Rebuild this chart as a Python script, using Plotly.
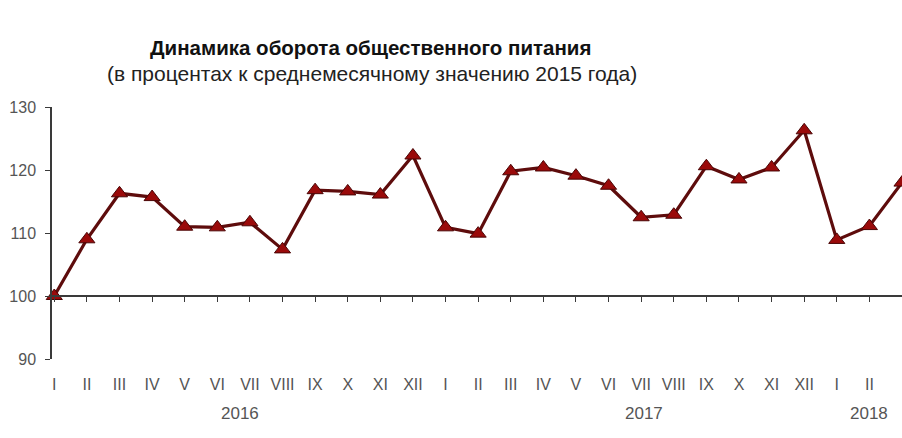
import plotly.graph_objects as go

# Monthly index of catering turnover, % of the 2015 monthly average
months = ["I", "II", "III", "IV", "V", "VI", "VII", "VIII", "IX", "X", "XI", "XII",
          "I", "II", "III", "IV", "V", "VI", "VII", "VIII", "IX", "X", "XI", "XII",
          "I", "II", "III"]
values = [100.0, 109.0, 116.3, 115.7, 111.0, 110.9, 111.7, 107.4, 116.8, 116.6, 116.1, 122.3,
          110.9, 109.9, 119.8, 120.4, 119.1, 117.5, 112.5, 112.9, 120.6, 118.5, 120.4, 126.3,
          108.9, 111.1, 118.0]
years = ["2016", "2017", "2018"]
year_pos = [5.7, 18.1, 25.0]
y_ticks = [90, 100, 110, 120, 130]

idx = list(range(len(months)))
FONT = "Liberation Sans Narrow, Arial Narrow, Liberation Sans, Arial, sans-serif"
AXIS = "#3a3a3a"
LABEL = "#555555"

fig = go.Figure()
fig.add_trace(go.Scatter(
    x=idx, y=values, mode="lines+markers",
    line=dict(color="#5e0c0c", width=3.2),
    marker=dict(symbol="triangle-up", size=14, color="#9a0a0a",
                line=dict(color="#4a0505", width=1)),
    cliponaxis=False, showlegend=False, hoverinfo="x+y",
))

# invisible trace so the axis drawn at the 100 level has a subplot
fig.add_trace(go.Scatter(x=[idx[0]], y=[values[0]], xaxis="x2", mode="markers",
                         marker=dict(opacity=0), showlegend=False, hoverinfo="skip"))

fig.update_layout(
    width=902, height=438,
    margin=dict(l=52, r=0, t=107, b=79),
    paper_bgcolor="white", plot_bgcolor="white",
    font=dict(family=FONT, color=LABEL),
    xaxis=dict(
        range=[-0.07, 26.0], tickmode="array", tickvals=idx, ticktext=months,
        showline=False, showgrid=False, zeroline=False, ticks="",
        ticklabelstandoff=14, tickfont=dict(size=16, color=LABEL),
    ),
    xaxis2=dict(
        overlaying="x", matches="x", anchor="free", position=0.25, side="bottom",
        tickmode="array", tickvals=idx, showticklabels=False,
        showline=True, linecolor=AXIS, linewidth=1.5,
        ticks="outside", ticklen=5, tickcolor=AXIS, tickwidth=1,
        showgrid=False, zeroline=False,
    ),
    yaxis=dict(
        range=[90, 130], tickmode="array", tickvals=y_ticks,
        showline=True, linecolor=AXIS, linewidth=1.5,
        ticks="outside", ticklen=5, tickcolor=AXIS, tickwidth=1,
        showgrid=False, zeroline=False, ticklabelstandoff=6,
        tickfont=dict(size=16, color=LABEL),
    ),
)

for yr, pos in zip(years, year_pos):
    fig.add_annotation(x=pos, y=0, xref="x", yref="paper", yanchor="middle", yshift=-54,
                       text=yr, showarrow=False, font=dict(size=17, color=LABEL))

fig.add_annotation(xref="paper", yref="paper", x=(370 - 52) / 850, y=(359 - 48) / 252,
                   xanchor="center", yanchor="middle",
                   text="<b>Динамика оборота общественного питания</b>", showarrow=False,
                   font=dict(size=20.5, color="#111111", family=FONT))
fig.add_annotation(xref="paper", yref="paper", x=(372 - 52) / 850, y=(359 - 73) / 252,
                   xanchor="center", yanchor="middle",
                   text="(в процентах к среднемесячному значению 2015 года)", showarrow=False,
                   font=dict(size=21, color="#222222", family=FONT))

fig.write_html("out.html")
